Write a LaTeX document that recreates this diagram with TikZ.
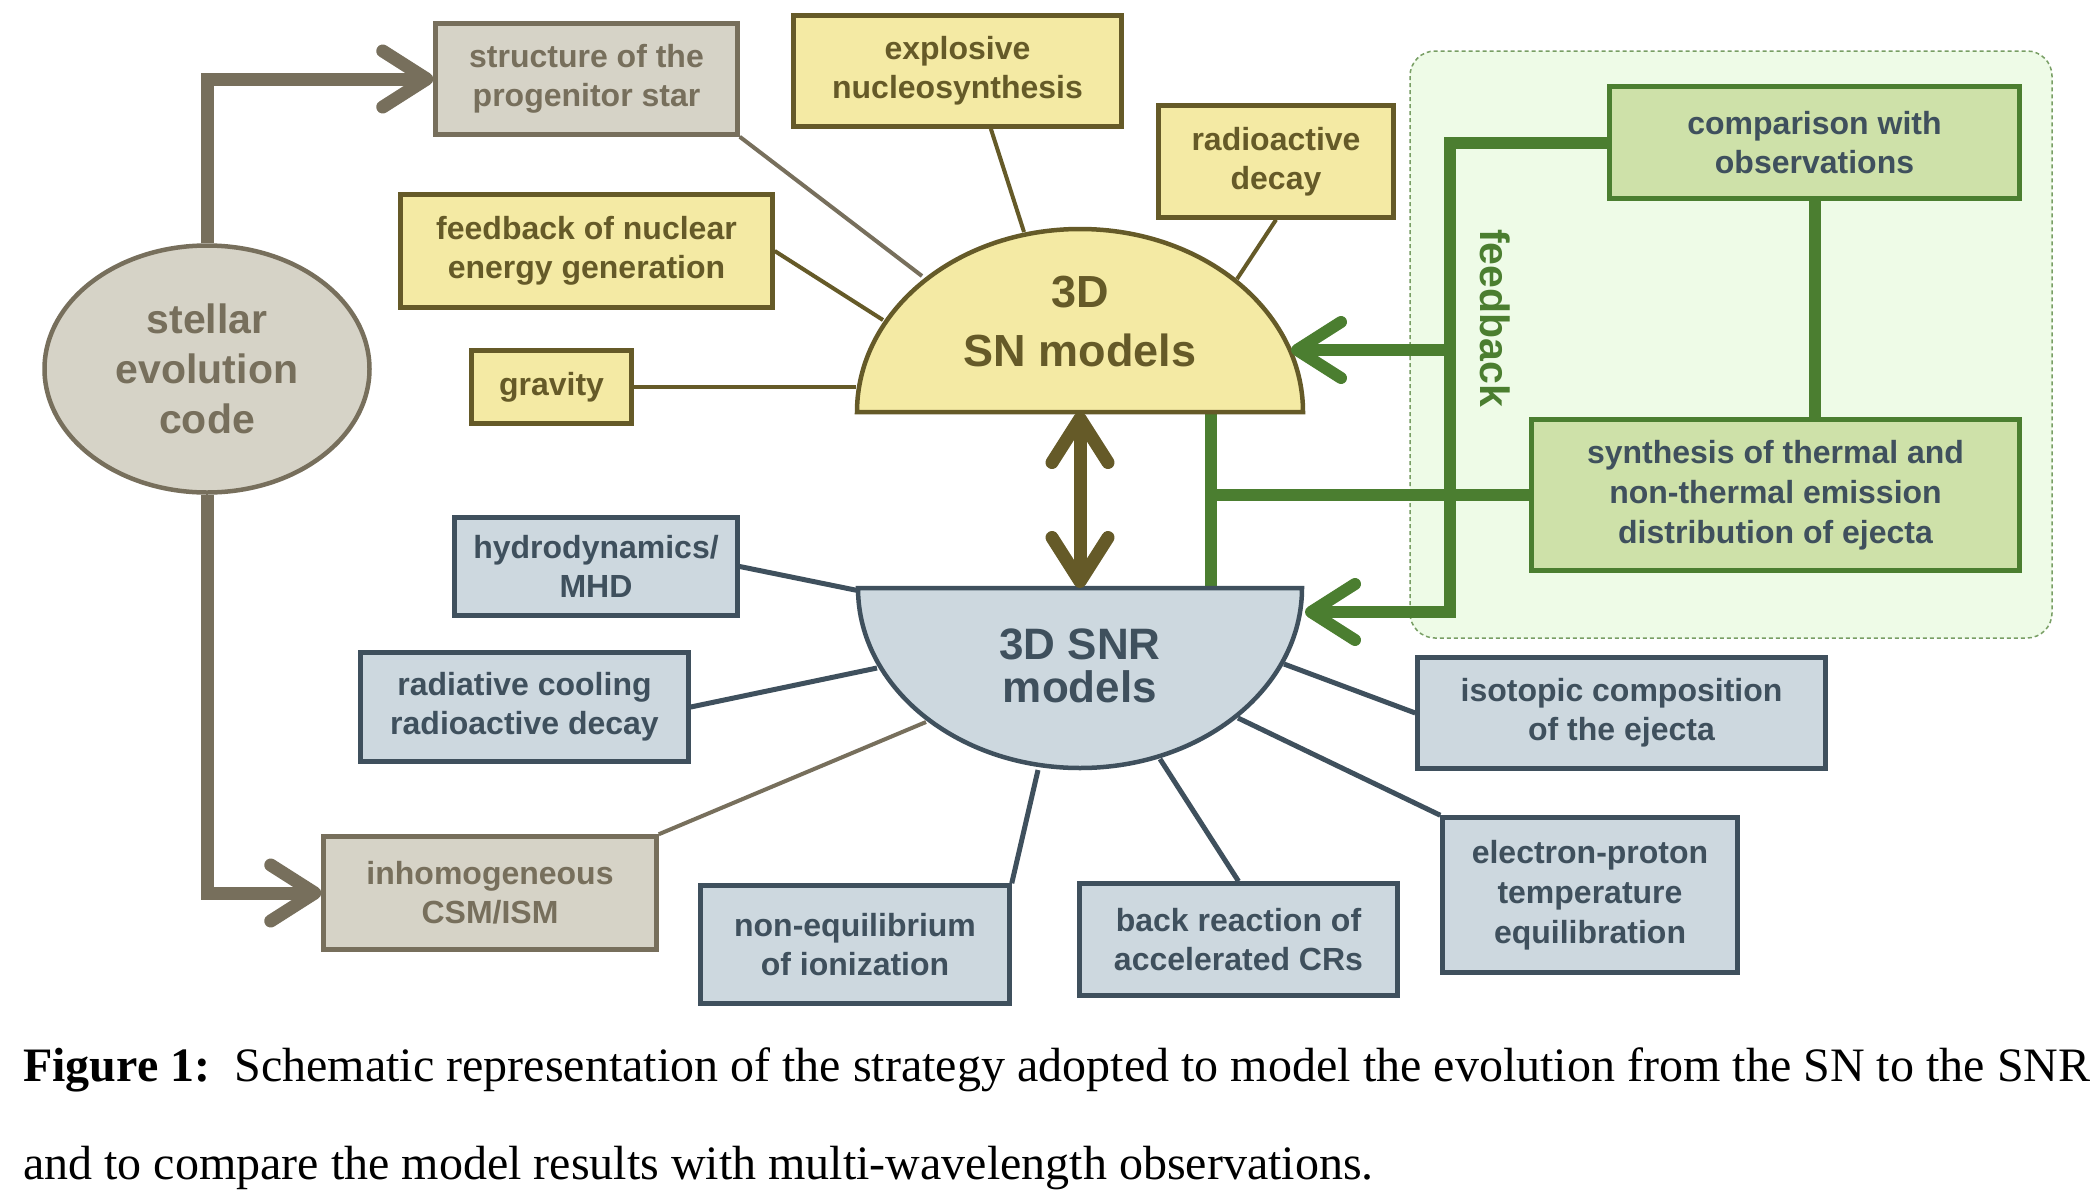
\documentclass[tikz,border=0pt]{standalone}
\usepackage{fontspec}
\setmainfont{Liberation Serif}
\newfontfamily\diagfont{Liberation Sans}
\usetikzlibrary{arrows.meta,shapes.geometric}

\definecolor{stelfill}{HTML}{D6D3C7}
\definecolor{stelline}{HTML}{776F5C}
\definecolor{snfill}{HTML}{F4EAA4}
\definecolor{snline}{HTML}{655A28}
\definecolor{snrfill}{HTML}{CDD8DF}
\definecolor{snrline}{HTML}{3F505D}
\definecolor{obsfill}{HTML}{CEE1A9}
\definecolor{obsline}{HTML}{4B7E30}
\definecolor{obsback}{HTML}{EEFBE7}

\begin{document}
\begin{tikzpicture}[x=1pt,y=-1pt,
  every node/.style={font=\diagfont\bfseries\fontsize{32}{39}\selectfont,align=center,inner sep=0pt},
  stelbox/.style={draw=stelline,fill=stelfill,text=stelline,line width=4.5pt},
  snbox/.style={draw=snline,fill=snfill,text=snline,line width=4.5pt},
  snrbox/.style={draw=snrline,fill=snrfill,text=snrline,line width=4.5pt},
  obsbox/.style={draw=obsline,fill=obsfill,text=snrline,line width=4.5pt},
  snlink/.style={draw=snline,line width=4pt},
  snrlink/.style={draw=snrline,line width=5pt},
  stellink/.style={draw=stelline,line width=4pt},
  fbline/.style={draw=obsline,line width=12pt},
  fat/.tip={Straight Barb[length=44pt,width=56pt,round]}]
  \fill[white] (0,0) rectangle (2098,1194);
  \useasboundingbox (0,0) rectangle (2098,1194);

  \draw[obsline!75!white,fill=obsback,line width=1.5pt,dash pattern=on 4pt off 3pt,rounded corners=25pt] (1410,51) rectangle (2052,638);

  \coordinate (snbase) at (1080,412);
  \coordinate (snrbase) at (1080,588);
  \coordinate (snprog) at (922,276);
  \coordinate (snexpl) at (1024,232);
  \coordinate (snnucl) at (883,320);
  \coordinate (sngrav) at (856,387);
  \coordinate (snradio) at (1237,279);
  \coordinate (snrhydro) at (860,591);
  \coordinate (snrcool) at (877,668);
  \coordinate (snrinhom) at (926,722);
  \coordinate (snrnoneq) at (1038,770);
  \coordinate (snrback) at (1160,759);
  \coordinate (snrelec) at (1238,718);
  \coordinate (snriso) at (1284,664);
  \coordinate (snhit) at (1291,350);
  \coordinate (snrhit) at (1305,612);
  \coordinate (fbtrunk) at (1450,612);
  \coordinate (tjoin) at (1211,495);

  \node[stelbox,ellipse,minimum width=325pt,minimum height=247pt,font=\diagfont\bfseries\fontsize{41}{50}\selectfont] (stel) at (207,369) {stellar\\evolution\\code};
  \node[stelbox,minimum width=302pt,minimum height=111pt] (prog) at (586.5,79) {structure of the\\progenitor star};
  \node[snbox,minimum width=328pt,minimum height=111pt] (expl) at (957.5,71) {explosive\\nucleosynthesis};
  \node[snbox,minimum width=372pt,minimum height=113pt] (nucl) at (586.5,251) {feedback of nuclear\\energy generation};
  \node[snbox,minimum width=160pt,minimum height=73pt] (grav) at (551.5,387) {gravity};
  \node[snbox,minimum width=235pt,minimum height=112pt] (radio) at (1276,161.5) {radioactive\\decay};
  \node[obsbox,minimum width=410pt,minimum height=112pt] (comp) at (1814.5,142.5) {comparison with\\observations};
  \node[obsbox,minimum width=488pt,minimum height=151pt,font=\diagfont\bfseries\fontsize{32}{40}\selectfont] (synth) at (1775.5,495) {synthesis of thermal and\\non-thermal emission\\distribution of ejecta};
  \node[snrbox,minimum width=283pt,minimum height=98pt] (hydro) at (596,566.5) {hydrodynamics/\\MHD};
  \node[snrbox,minimum width=328pt,minimum height=109pt] (radcool) at (524.5,707) {radiative cooling\\radioactive decay};
  \node[stelbox,minimum width=333pt,minimum height=113pt] (inhom) at (490,893) {inhomogeneous\\CSM/ISM};
  \node[snrbox,minimum width=309pt,minimum height=118pt] (noneq) at (855,944.5) {non-equilibrium\\of ionization};
  \node[snrbox,minimum width=318pt,minimum height=112pt] (backr) at (1238.5,939.5) {back reaction of\\accelerated CRs};
  \node[snrbox,minimum width=295pt,minimum height=155pt,font=\diagfont\bfseries\fontsize{32}{40}\selectfont] (elec) at (1590,895) {electron-proton\\temperature\\equilibration};
  \node[snrbox,minimum width=408pt,minimum height=111pt] (iso) at (1621.5,713) {isotopic composition\\of the ejecta};

  \draw[stellink] (prog.south east) -- (snprog);
  \draw[snlink] (expl.-60) -- (snexpl);
  \draw[snlink] (nucl.east) -- (snnucl);
  \draw[snlink] (grav.east) -- (sngrav);
  \draw[snlink] (radio.south) -- (snradio);
  \draw[snrlink] (hydro.east) -- (snrhydro);
  \draw[snrlink] (radcool.east) -- (snrcool);
  \draw[stellink] (inhom.north east) -- (snrinhom);
  \draw[snrlink] (noneq.north east) -- (snrnoneq);
  \draw[snrlink] (backr.north) -- (snrback);
  \draw[snrlink] (elec.north west) -- (snrelec);
  \draw[snrlink] (iso.west) -- (snriso);

  \draw[fbline] (comp.south) -- (comp.south |- synth.north);
  \draw[fbline] (synth.west) -- (tjoin);
  \draw[fbline] (tjoin |- snbase) -- (tjoin |- snrbase);

  \draw[snbox] (857,412) arc[start angle=180,end angle=360,x radius=223,y radius=183] -- cycle;
  \draw[snrbox] (858,588) arc[start angle=180,end angle=0,x radius=222,y radius=180] -- cycle;
  \node[text=snline,font=\diagfont\bfseries\fontsize{45}{59}\selectfont] (sn) at (1080,322) {3D\\SN models};
  \node[text=snrline,font=\diagfont\bfseries\fontsize{44}{43}\selectfont] (snr) at (1080,666) {3D SNR\\models};

  \draw[snline,line width=13pt,fat-fat] (snbase) -- (snrbase);
  \draw[stelline,line width=13pt,-fat] (stel.north) |- (prog.west);
  \draw[stelline,line width=13pt,-fat] (stel.south) |- (inhom.west);
  \draw[fbline,-fat] (comp.west) -| (fbtrunk) -- (snrhit);
  \draw[fbline,-fat] (fbtrunk |- snhit) -- (snhit);
  \node[rotate=-90,text=obsline,font=\diagfont\bfseries\fontsize{41}{41}\selectfont] (fblabel) at (1495,318) {feedback};

  \node[anchor=base west,font=\rmfamily\mdseries\fontsize{48}{48}\selectfont] (capa) at (23,1081) {\makebox[2067pt][s]{\textbf{Figure 1:}\enspace Schematic representation of the strategy adopted to model the evolution from the SN to the SNR}};
  \node[anchor=base west,font=\rmfamily\mdseries\fontsize{48}{48}\selectfont] (capb) at (23,1179) {and to compare the model results with multi-wavelength observations.};
\end{tikzpicture}
\end{document}
